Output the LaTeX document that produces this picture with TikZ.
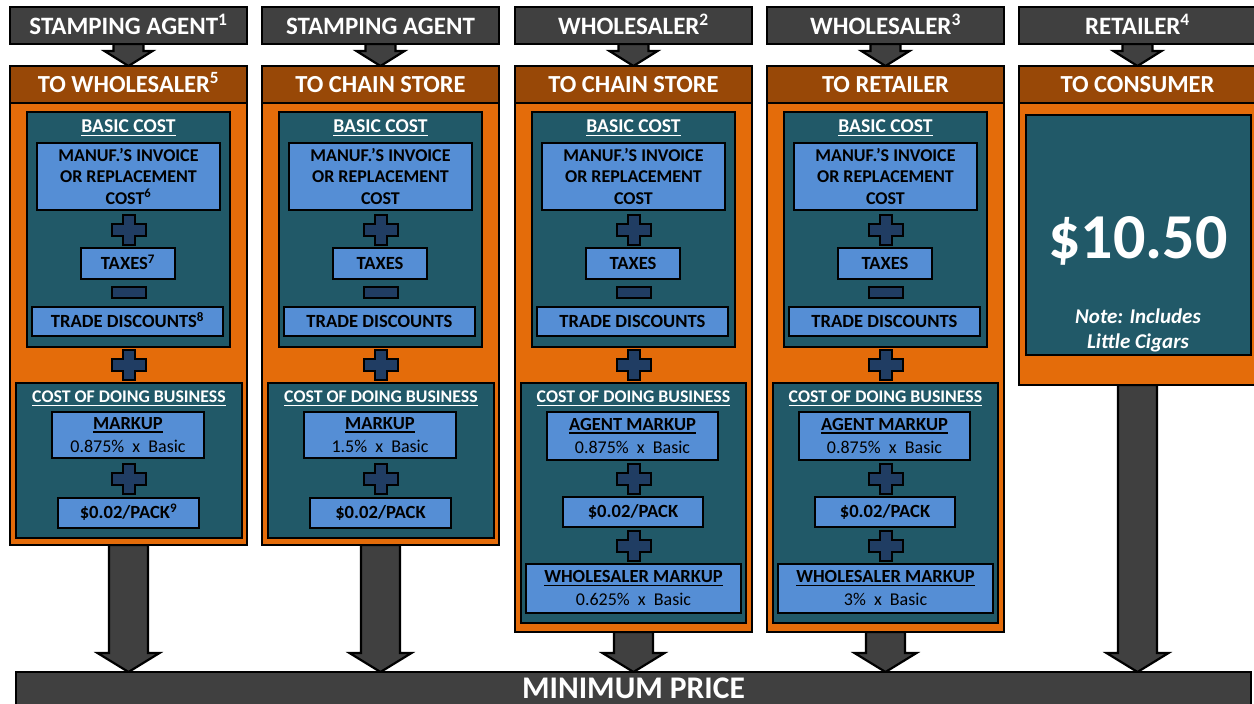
\documentclass[tikz,border=0pt]{standalone}
\usepackage{fontspec}
\setmainfont{Carlito}
\usetikzlibrary{calc,backgrounds}
\definecolor{hdrgray}{HTML}{404040}
\definecolor{ttlbrown}{HTML}{984807}
\definecolor{bodyorange}{HTML}{E46C0A}
\definecolor{tealbox}{HTML}{215968}
\definecolor{ltblue}{HTML}{558ED5}
\definecolor{plusnavy}{HTML}{203D63}
\newcommand\fsz[2]{\fontsize{#1}{#2}\selectfont}
\newcommand\myul[1]{\setbox0\hbox{#1}\leavevmode\rlap{\vrule height -2pt depth 3.3pt width \wd0}\box0}
\newcommand\fatdown[5]{%
  \draw[arrowst] let \p1=(#1), \p2=(#2) in
    (\x1-#3pt,\y1) -- (\x1-#3pt,\y2+#5pt) -- (\x1-#4pt,\y2+#5pt) -- (\x1,\y2)
    -- (\x1+#4pt,\y2+#5pt) -- (\x1+#3pt,\y2+#5pt) -- (\x1+#3pt,\y1) -- cycle;}
\tikzset{
  every node/.style={inner sep=0pt, outer sep=0pt},
  boxline/.style={draw=black, line width=2.2pt},
  hdrbox/.style={boxline, fill=hdrgray, minimum width=237, minimum height=37},
  ttlbox/.style={boxline, fill=ttlbrown, minimum width=237, minimum height=37},
  bodybox/.style={boxline, fill=bodyorange, minimum width=237},
  tealbx/.style={boxline, fill=tealbox},
  bluebx/.style={boxline, fill=ltblue, text=black, font={\bfseries\fsz{18}{21.2}}},
  oneline/.style={font={\bfseries\fsz{18.6}{21}}, text height=11.8pt, text depth=0pt},
  hdrtext/.style={anchor=base, text=white, font={\bfseries\fsz{25}{27}}},
  ttltext/.style={anchor=base, text=white, font={\bfseries\fsz{24.5}{27}}},
  lbltext/.style={anchor=base, text=white, font={\bfseries\fsz{19.6}{22}}},
  plusst/.style={draw=black, line width=2pt, fill=plusnavy, line join=miter},
  arrowst/.style={draw=black, line width=2.2pt, fill=hdrgray, line join=miter},
  plus/.pic={\path[plusst] (-6,-15) -- (6,-15) -- (6,-6) -- (17,-6) -- (17,6) -- (6,6)
     -- (6,15) -- (-6,15) -- (-6,6) -- (-17,6) -- (-17,-6) -- (-6,-6) -- cycle;},
  minus/.pic={\path[plusst] (-17,-5.5) rectangle (17,5.5);},
}
% column frame: #1 id, #2 x offset, #3 header, #4 title, #5 body height
\newcommand\colframe[5]{%
  \node[bodybox, minimum height=#5] (body#1) at (#2+128.5,103+#5/2) {};
  \node[ttlbox] (ttl#1) at (#2+128.5,84.5) {};
  \node[hdrbox] (hdr#1) at (#2+128.5,25.5) {};
  \node[hdrtext] (hdrtxt#1) at (#2+128.5,34.5) {#3};
  \node[ttltext] (ttltxt#1) at (#2+128.5,92.5) {#4};
}
% basic cost block: #1 id, #2 offset, #3 #4 #5 superscripts
\newcommand\basicblock[5]{%
  \node[tealbx, minimum width=203, minimum height=235] (basic#1) at (#2+128.5,229.5) {};
  \node[lbltext] (basiclbl#1) at (#2+128.5,132.5) {\myul{BASIC COST}};
  \node[bluebx, minimum width=183, minimum height=67, align=center] (manuf#1) at (#2+128.5,176.5)
     {MANUF.’S INVOICE\\OR REPLACEMENT\\COST#3};
  \pic at (#2+128.5,230) {plus};
  \node[bluebx, oneline, minimum width=94, minimum height=31] (taxes#1) at (#2+128,263.5) {TAXES#4};
  \pic at (#2+128.5,292.5) {minus};
  \node[bluebx, oneline, minimum width=191, minimum height=29] (trade#1) at (#2+127.5,321.5) {TRADE DISCOUNTS#5};
  \pic at (#2+128.5,364.5) {plus};
}
% short cost of doing business: #1 id, #2 offset, #3 pct, #4 sup
\newcommand\codbshort[4]{%
  \node[tealbx, minimum width=226, minimum height=155] (codb#1) at (#2+129,460.5) {};
  \node[lbltext, font={\bfseries\fsz{17.8}{22}}] (codblbl#1) at (#2+129,402.5) {\myul{COST OF DOING BUSINESS}};
  \node[bluebx, minimum width=152, minimum height=46, align=center, font={\bfseries\fsz{18.5}{23}}] (markup#1) at (#2+128,435)
     {\myul{MARKUP}\\{\mdseries\fsz{18}{23}#3~~x~~Basic}};
  \pic at (#2+128.5,479) {plus};
  \node[bluebx, oneline, minimum width=141, minimum height=30] (pack#1) at (#2+128.5,513) {\$0.02/PACK#4};
}
% long cost of doing business: #1 id, #2 offset, #3 agent pct, #4 wholesaler pct
\newcommand\codblong[4]{%
  \node[tealbx, minimum width=225, minimum height=240] (codb#1) at (#2+128.5,503) {};
  \node[lbltext, font={\bfseries\fsz{17.8}{22}}] (codblbl#1) at (#2+128.5,402.5) {\myul{COST OF DOING BUSINESS}};
  \node[bluebx, minimum width=171, minimum height=48, align=center, font={\bfseries\fsz{18.5}{23}}] (amarkup#1) at (#2+127.5,436)
     {\myul{AGENT MARKUP}\\{\mdseries\fsz{18}{23}#3~~x~~Basic}};
  \pic at (#2+128.5,479) {plus};
  \node[bluebx, oneline, minimum width=140, minimum height=30] (pack#1) at (#2+128,512) {\$0.02/PACK};
  \pic at (#2+128.5,546) {plus};
  \node[bluebx, minimum width=215, minimum height=49, align=center, font={\bfseries\fsz{18.5}{23}}] (wmarkup#1) at (#2+128.5,588.5)
     {\myul{WHOLESALER MARKUP}\\{\mdseries\fsz{18}{23}#4~~x~~Basic}};
}
\begin{document}
\begin{tikzpicture}[x=1pt,y=-1pt]
\useasboundingbox (0,0) rectangle (1254,704);

\colframe{1}{0}{STAMPING AGENT\textsuperscript{1}}{TO WHOLESALER\textsuperscript{5}}{442}
\basicblock{1}{0}{\textsuperscript{6}}{\textsuperscript{7}}{\textsuperscript{8}}
\codbshort{1}{0}{0.875\%}{\textsuperscript{9}}

\colframe{2}{252}{STAMPING AGENT}{TO CHAIN STORE}{442}
\basicblock{2}{252}{}{}{}
\codbshort{2}{252}{1.5\%}{}

\colframe{3}{505}{WHOLESALER\textsuperscript{2}}{TO CHAIN STORE}{529}
\basicblock{3}{505}{}{}{}
\codblong{3}{505}{0.875\%}{0.625\%}

\colframe{4}{757}{WHOLESALER\textsuperscript{3}}{TO RETAILER}{529}
\basicblock{4}{757}{}{}{}
\codblong{4}{757}{0.875\%}{3\%}

\colframe{5}{1009}{RETAILER\textsuperscript{4}}{TO CONSUMER}{282}
\node[tealbx, minimum width=225, minimum height=240] (price5) at (1138.5,235) {};
\node[anchor=base, text=white, font={\bfseries\fsz{64}{70}}] (pricetxt5) at (1138,258) {\$10.50};
\node[align=center, text=white, font={\bfseries\itshape\fsz{21}{25}}] (note5) at (1138,330) {Note: Includes\\Little Cigars};

\node[boxline, fill=hdrgray, minimum width=1235, minimum height=36] (bar) at (633.5,690) {};
\node[anchor=base, text=white, font={\bfseries\fsz{31.5}{32}}] (bartxt) at (633.5,698) {MINIMUM PRICE};

\begin{pgfonlayer}{background}
  \fill[white] (0,0) rectangle (1254,704);
  \foreach \i in {1,...,5} {
    \fatdown{hdr\i.south}{ttl\i.north}{15}{24}{15}
    \fatdown{body\i.south}{bar.north}{19.5}{31}{19}
  }
\end{pgfonlayer}
\end{tikzpicture}
\end{document}
